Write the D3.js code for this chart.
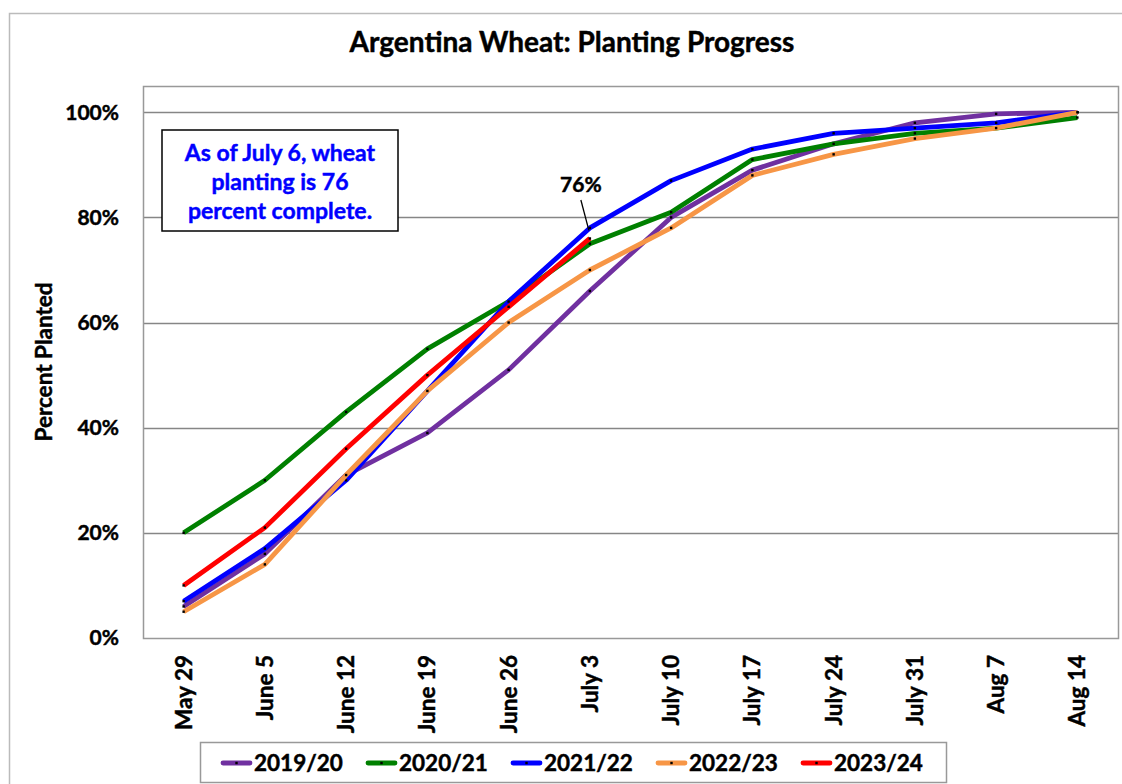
<!DOCTYPE html>
<html>
<head>
<meta charset="utf-8">
<script src="https://cdn.jsdelivr.net/npm/d3@7"></script>
<style>
  body { margin: 0; background: #fff; }
  svg { display: block; }
  text { font-family: Lato, "Open Sans", sans-serif; font-weight: bold; }
  .heavy { stroke-width: 0.45px; paint-order: stroke; }
</style>
</head>
<body>
<svg id="chart" width="1122" height="784"></svg>
<script>
// weeks on the x axis
const weeks = ['May 29', 'June 5', 'June 12', 'June 19', 'June 26', 'July 3',
  'July 10', 'July 17', 'July 24', 'July 31', 'Aug 7', 'Aug 14'];

// percent planted, by season
const s2019 = [6, 16, 31, 39, 51, 66, 80, 89, 94, 98, 99.7, 100];
const s2020 = [20, 30, 43, 55, 64, 75, 81, 91, 94, 96, 97, 99];
const s2021 = [7, 17, 30, 47, 64, 78, 87, 93, 96, 97, 98, 100];
const s2022 = [5, 14, 31, 47, 60, 70, 78, 88, 92, 95, 97, 100];
const s2023 = [10, 21, 36, 50, 63, 76];

const seasons = ['2019/20', '2020/21', '2021/22', '2022/23', '2023/24'];
const seasonColors = ['#7030A0', '#008000', '#0000FF', '#F79646', '#FF0000'];
const yTicks = [0, 20, 40, 60, 80, 100];

const series = [s2019, s2020, s2021, s2022, s2023].map(function (vals, i) {
  return { name: seasons[i], color: seasonColors[i], values: vals };
});

const svg = d3.select('#chart');

// outer chart border
svg.append('path')
  .attr('d', 'M9.5,784 V13.5 H1122')
  .attr('fill', 'none')
  .attr('stroke', '#bbb')
  .attr('stroke-width', 1.5);

const plot = { left: 143, right: 1118, top: 86, bottom: 638 };

const x = d3.scaleBand()
  .domain(weeks)
  .range([plot.left, plot.right]);

const y = d3.scaleLinear()
  .domain([0, 105])
  .range([plot.bottom, plot.top]);

// title
svg.append('text')
  .attr('class', 'heavy')
  .attr('x', 572)
  .attr('y', 52)
  .attr('text-anchor', 'middle')
  .attr('stroke', '#000')
  .style('font-size', '28px')
  .text('Argentina Wheat: Planting Progress');

// gridlines
svg.append('g')
  .selectAll('line')
  .data(yTicks.filter(d => d > 0))
  .enter()
  .append('line')
  .attr('x1', plot.left)
  .attr('x2', plot.right)
  .attr('y1', d => Math.round(y(d)) + 0.5)
  .attr('y2', d => Math.round(y(d)) + 0.5)
  .attr('stroke', '#868686')
  .attr('stroke-width', 1.3);

// plot area border
svg.append('rect')
  .attr('x', plot.left + 0.5)
  .attr('y', plot.top + 0.5)
  .attr('width', plot.right - plot.left)
  .attr('height', plot.bottom - plot.top)
  .attr('fill', 'none')
  .attr('stroke', '#999')
  .attr('stroke-width', 1.5);

// y axis labels
const yAxis = svg.append('g')
  .attr('transform', 'translate(' + plot.left + ',0)')
  .call(d3.axisLeft(y).tickValues(yTicks).tickSize(0).tickPadding(24)
    .tickFormat(d => d + '%'));
yAxis.select('.domain').remove();
yAxis.selectAll('text')
  .attr('class', 'heavy')
  .style('font-size', '21px')
  .style('font-family', 'Lato, sans-serif')
  .attr('fill', '#000')
  .attr('stroke', '#000');

// x axis labels, rotated
const xAxis = svg.append('g')
  .attr('transform', 'translate(0,' + plot.bottom + ')')
  .call(d3.axisBottom(x).tickSize(0));
xAxis.select('.domain').remove();
xAxis.selectAll('text')
  .attr('class', 'heavy')
  .style('font-size', '22.5px')
  .style('font-family', 'Lato, sans-serif')
  .attr('fill', '#000')
  .attr('stroke', '#000')
  .attr('text-anchor', 'end')
  .attr('transform', 'rotate(-90)')
  .attr('x', -17)
  .attr('y', 0)
  .attr('dy', '0.35em');

// y axis title
svg.append('text')
  .attr('class', 'heavy')
  .attr('transform', 'translate(52,362) rotate(-90)')
  .attr('text-anchor', 'middle')
  .attr('stroke', '#000')
  .style('font-size', '22.5px')
  .text('Percent Planted');

// lines
const line = d3.line()
  .x((d, i) => x(weeks[i]) + x.bandwidth() / 2)
  .y(d => y(d));

const lines = svg.append('g');
series.forEach(function (s) {
  const g = lines.append('g');
  g.append('path')
    .attr('d', line(s.values))
    .attr('fill', 'none')
    .attr('stroke', s.color)
    .attr('stroke-width', 4.8)
    .attr('stroke-linejoin', 'round');
  g.selectAll('rect')
    .data(s.values)
    .enter()
    .append('rect')
    .attr('x', (d, i) => x(weeks[i]) + x.bandwidth() / 2 - 1.2)
    .attr('y', d => y(d) - 1.2)
    .attr('width', 2.4)
    .attr('height', 2.4)
    .attr('fill', '#000');
});

// annotation box
const note = svg.append('g');
note.append('rect')
  .attr('x', 162)
  .attr('y', 130)
  .attr('width', 236)
  .attr('height', 101)
  .attr('fill', '#fff')
  .attr('stroke', '#000')
  .attr('stroke-width', 1.5);
['As of July 6, wheat', 'planting is 76', 'percent complete.'].forEach(function (t, i) {
  note.append('text')
    .attr('class', 'heavy')
    .attr('x', 280)
    .attr('y', 161 + i * 29)
    .attr('text-anchor', 'middle')
    .attr('fill', '#0000FF')
    .attr('stroke', '#0000FF')
    .style('font-size', '23px')
    .text(t);
});

// 76% callout
const lastIdx = s2023.length - 1;
const cx = x(weeks[lastIdx]) + x.bandwidth() / 2;
svg.append('line')
  .attr('x1', cx - 9)
  .attr('y1', 200)
  .attr('x2', cx - 1)
  .attr('y2', y(s2023[lastIdx]) - 8)
  .attr('stroke', '#000')
  .attr('stroke-width', 1.3);
svg.append('text')
  .attr('class', 'heavy')
  .attr('x', cx - 9)
  .attr('y', 192)
  .attr('text-anchor', 'middle')
  .attr('stroke', '#000')
  .style('font-size', '21px')
  .text(s2023[lastIdx] + '%');

// legend
const legend = svg.append('g');
legend.append('rect')
  .attr('x', 200.5)
  .attr('y', 742.5)
  .attr('width', 746)
  .attr('height', 40)
  .attr('fill', '#fff')
  .attr('stroke', '#999')
  .attr('stroke-width', 1.5);
series.forEach(function (s, i) {
  const lx = 223 + i * 145;
  const item = legend.append('g').attr('transform', 'translate(' + lx + ',763)');
  item.append('line')
    .attr('x1', 0).attr('x2', 27)
    .attr('stroke', s.color)
    .attr('stroke-width', 4.8)
    .attr('stroke-linecap', 'round');
  item.append('rect')
    .attr('x', 12.3).attr('y', -1.2)
    .attr('width', 2.4).attr('height', 2.4)
    .attr('fill', '#000');
  item.append('text')
    .attr('class', 'heavy')
    .attr('x', 31)
    .attr('dy', '0.35em')
    .attr('stroke', '#000')
    .style('font-size', '22.5px')
    .text(s.name);
});
</script>
</body>
</html>
